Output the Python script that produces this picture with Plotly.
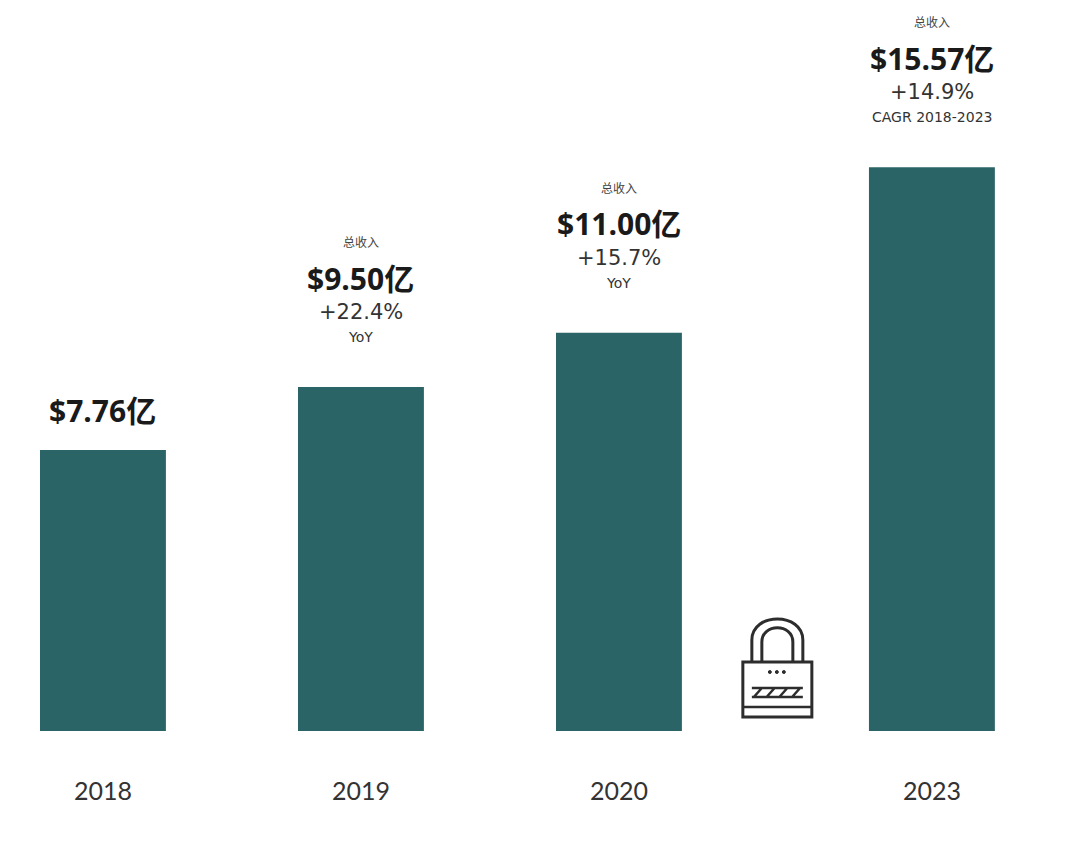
import plotly.graph_objects as go

# 数据
years = ["2018", "2019", "2020", "2023"]
x_pos = [0, 1, 2, 3.213]          # 2023 在锁图标之后，间距更大
revenue = [7.76, 9.50, 11.00, 15.57]
value_labels = ["$7.76亿", "$9.50亿", "$11.00亿", "$15.57亿"]
top_labels = ["", "总收入", "总收入", "总收入"]
growth_labels = ["", "+22.4%", "+15.7%", "+14.9%"]
growth_notes = ["", "YoY", "YoY", "CAGR 2018-2023"]

bar_color = "#2a6467"
font_big = "Open Sans, Noto Sans CJK SC, sans-serif"
font_small = "DejaVu Sans, Noto Sans CJK SC, sans-serif"
font_axis = "Lato, sans-serif"

fig = go.Figure()
fig.add_trace(go.Bar(
    x=x_pos, y=revenue, width=0.488,
    marker=dict(color=bar_color, line=dict(width=0)),
    hoverinfo="skip",
))

# 柱顶标注（每行单独一个注释）
for i in range(len(years)):
    if top_labels[i]:
        lines = [(top_labels[i], 144, 12, "#444", font_small, 400),
                 (value_labels[i], 109, 30, "#1a1a1a", font_big, 700),
                 (growth_labels[i], 75, 21, "#333", font_small, 400),
                 (growth_notes[i], 50, 14, "#333", font_small, 400)]
    else:
        lines = [(value_labels[i], 40, 30, "#1a1a1a", font_big, 700)]
    for txt, dy, size, col, fam, wt in lines:
        fig.add_annotation(
            x=x_pos[i], y=revenue[i], text=txt,
            showarrow=False, yshift=dy, yanchor="middle",
            font=dict(family=fam, size=size, color=col, weight=wt),
        )

# 锁图标（装饰）
lx = 2.612         # 锁图标中心 x（数据坐标）
u = 1 / 258.0      # 每像素对应的 x 单位
v = 1 / 36.2       # 每像素对应的 y 单位
base = 731
def X(px):
    return lx + (px - 777) * u
def Y(py):
    return (base - py) * v
line_col = "#2d2d2d"
# 锁体
fig.add_shape(type="rect", x0=X(743), x1=X(812), y0=Y(717), y1=Y(662),
              line=dict(color=line_col, width=3), fillcolor="white", layer="above")
# 锁扣（外、内）
fig.add_shape(type="path",
              path=f"M {X(752)} {Y(662)} L {X(752)} {Y(640)} C {X(752)} {Y(612)}, {X(803)} {Y(612)}, {X(803)} {Y(640)} L {X(803)} {Y(662)}",
              line=dict(color=line_col, width=3), layer="above")
fig.add_shape(type="path",
              path=f"M {X(762)} {Y(662)} L {X(762)} {Y(642)} C {X(762)} {Y(623)}, {X(793)} {Y(623)}, {X(793)} {Y(642)} L {X(793)} {Y(662)}",
              line=dict(color=line_col, width=3), layer="above")
# 三个小点
for dx in [770, 777, 784]:
    fig.add_shape(type="circle", x0=X(dx - 1.5), x1=X(dx + 1.5), y0=Y(673.5), y1=Y(670.5),
                  line=dict(color=line_col, width=1), fillcolor=line_col, layer="above")
# 锯齿线
zig = f"M {X(752)} {Y(688)} L {X(803)} {Y(688)} M {X(752)} {Y(697)} L {X(803)} {Y(697)}"
for k in range(4):
    a = 752 + k * 12.75
    zig += f" M {X(a + 10)} {Y(688)} L {X(a + 2)} {Y(697)}"
fig.add_shape(type="path", path=zig, line=dict(color=line_col, width=2.5), layer="above")
# 底部横线
fig.add_shape(type="line", x0=X(743), x1=X(812), y0=Y(707), y1=Y(707),
              line=dict(color=line_col, width=2.5), layer="above")

fig.update_layout(
    width=1080, height=841,
    margin=dict(l=0, r=0, t=0, b=110),
    paper_bgcolor="white", plot_bgcolor="white",
    showlegend=False,
    xaxis=dict(
        range=[-0.399, 3.787], tickvals=x_pos, ticktext=years,
        showgrid=False, zeroline=False, showline=False,
        ticks="outside", ticklen=38, tickcolor="rgba(0,0,0,0)",
        tickfont=dict(family=font_axis, size=25, color="#333"),
        fixedrange=True,
    ),
    yaxis=dict(
        range=[0, 731 / 36.2], visible=False, fixedrange=True,
    ),
)

fig.write_html("out.html", config={"displayModeBar": False},
               post_script="document.body.style.margin='0';")
